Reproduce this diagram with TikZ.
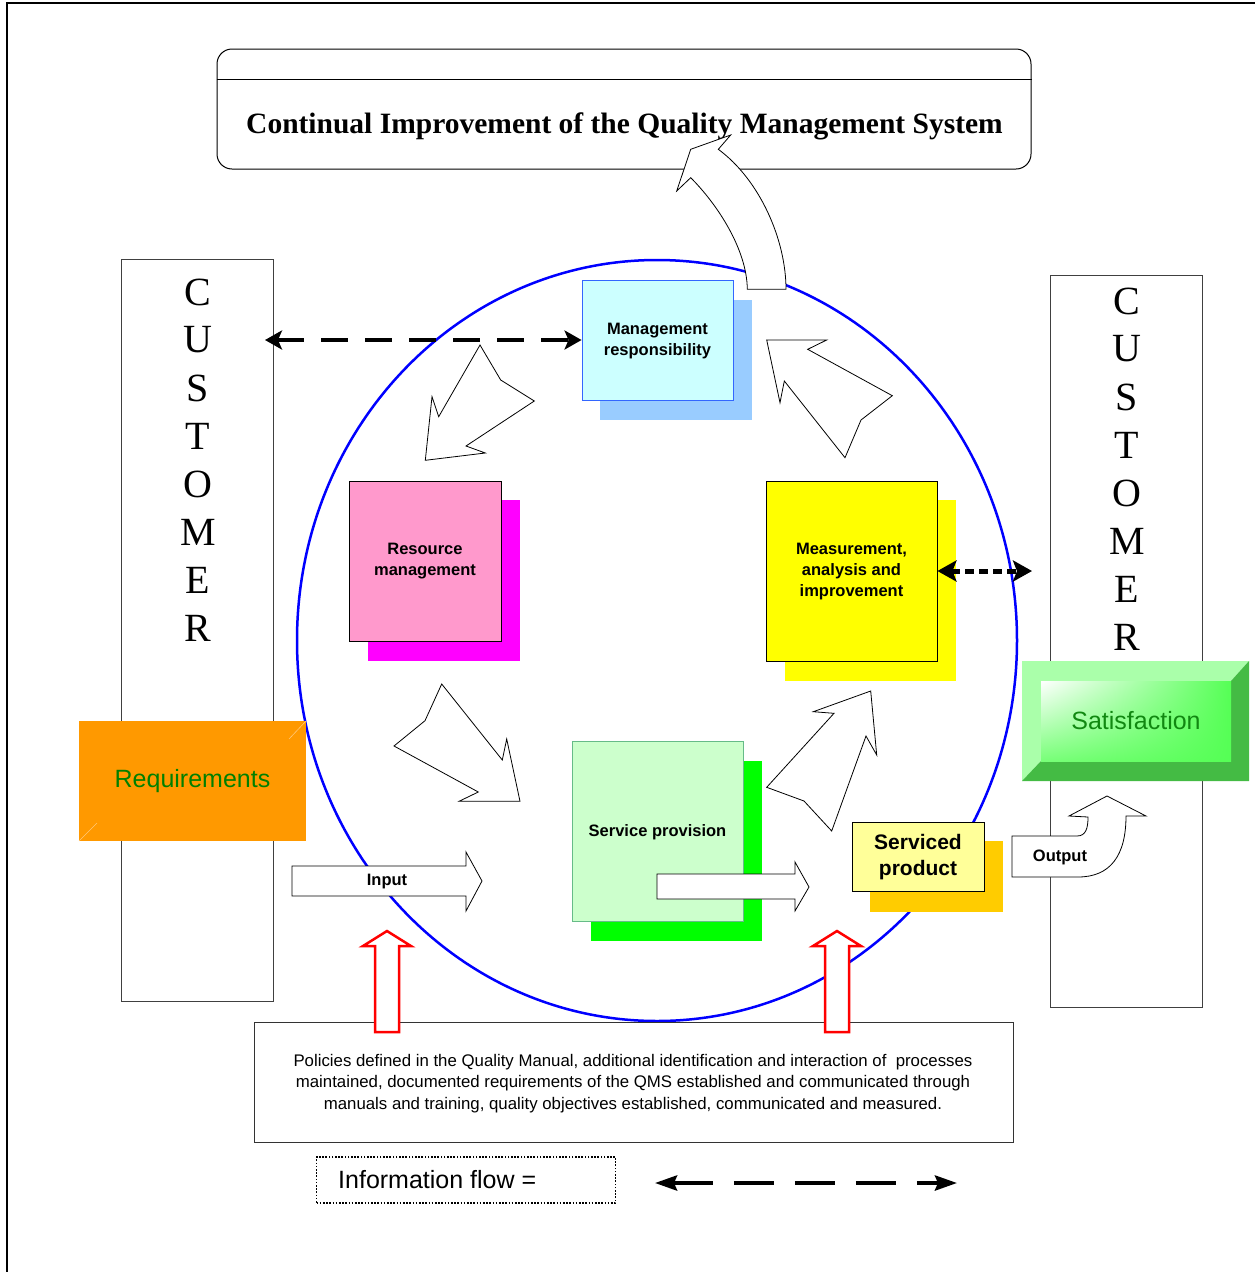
\documentclass[tikz,border=0pt]{standalone}
\usepackage{fontspec}
\setmainfont{Liberation Serif}
\setsansfont{Liberation Sans}
\usetikzlibrary{arrows.meta,calc,shapes.geometric,shadings}

\definecolor{mgfront}{RGB}{204,255,255}
\definecolor{mgshadow}{RGB}{153,204,255}
\definecolor{mgedge}{RGB}{51,102,255}
\definecolor{rsfront}{RGB}{255,153,204}
\definecolor{rsshadow}{RGB}{255,0,255}
\definecolor{msfront}{RGB}{255,255,0}
\definecolor{svfront}{RGB}{204,255,204}
\definecolor{svshadow}{RGB}{0,255,0}
\definecolor{svedge}{RGB}{102,187,136}
\definecolor{pdfront}{RGB}{255,255,153}
\definecolor{pdshadow}{RGB}{255,204,0}
\definecolor{reqorange}{RGB}{255,153,0}
\definecolor{reqline}{RGB}{255,200,120}
\definecolor{txtgreen}{RGB}{0,128,0}
\definecolor{satlight}{RGB}{170,255,170}
\definecolor{satdark}{RGB}{68,187,68}
\definecolor{satbright}{RGB}{85,255,85}
\definecolor{satmid}{RGB}{120,255,120}
\definecolor{sattext}{RGB}{17,136,17}

\tikzset{
  labelfont/.style={font=\sffamily\bfseries\fontsize{16.5}{21}\selectfont},
  frontbox/.style={draw, line width=0.9pt, inner sep=0pt, align=center, labelfont},
  boxlabel/.style={align=center, labelfont, inner sep=0pt},
  custbox/.style={draw=black!75, line width=1pt, fill=white, inner sep=0pt},
  custletter/.style={font=\fontsize{40}{48}\selectfont, inner sep=0pt},
  blockarrow/.style={draw, fill=white, line width=0.8pt, line join=miter},
  redarrow/.style={draw=red, fill=white, line width=2.5pt, line join=miter},
  infoflow/.style={line width=4pt, dash pattern=on 27pt off 17pt,
    {Stealth[length=17pt,width=19pt,inset=4pt]}-{Stealth[length=17pt,width=19pt,inset=4pt]}},
  infodots/.style={line width=5pt, dash pattern=on 9pt off 5pt,
    {Stealth[length=19pt,width=21pt,inset=4pt]}-{Stealth[length=19pt,width=21pt,inset=4pt]}},
  legendflow/.style={line width=4pt, dash pattern=on 40pt off 21pt,
    {Stealth[length=22pt,width=15pt,inset=3pt]}-{Stealth[length=22pt,width=15pt,inset=3pt]}},
}

\begin{document}
\begin{tikzpicture}[x=1pt,y=-1pt]
\useasboundingbox (0,0) rectangle (1255,1272);

% page frame
\draw[line width=1.8pt] (7,1272) -- (7,3) -- (1255,3);

% customer columns
\node[custbox, minimum width=152, minimum height=742] (custL) at (197.5,630.5) {};
\node[custbox, minimum width=152, minimum height=732] (custR) at (1126.5,641) {};
\foreach \l [count=\i] in {C,U,S,T,O,M,E,R} {
  \node[custletter] (custL-\i) at (198,{292+48*(\i-1)}) {\l};
  \node[custletter] (custR-\i) at (1127,{301+48*(\i-1)}) {\l};
}

% title box
\node[draw, line width=1pt, rounded corners=15pt, minimum width=814, minimum height=120, inner sep=0pt]
  (titlebox) at (624,109) {};
\draw[line width=1pt] (titlebox.west |- 0,79) -- (titlebox.east |- 0,79);
\node[font=\bfseries\fontsize{29.5}{34}\selectfont] (title) at (624.5,126)
  {Continual Improvement of the Quality Management System};

% process loop
\node[draw=blue, ellipse, line width=2.5pt, minimum width=720, minimum height=761, inner sep=0pt]
  (loop) at (657,640.5) {};

% requirements panel
\node[fill=reqorange, minimum width=227, minimum height=120, inner sep=0pt,
  font=\sffamily\fontsize{25}{30}\selectfont, text=txtgreen] (req) at (192.5,781) {Requirements};
\draw[reqline, line width=0.6pt] (306,721) -- (289,739);
\draw[reqline, line width=0.6pt] (79,841) -- (97,823);

% satisfaction panel
\fill[satlight] (1022,661) -- (1249,661) -- (1231,681) -- (1041,681) -- (1041,761) -- (1022,781) -- cycle;
\fill[satdark] (1249,661) -- (1249,781) -- (1022,781) -- (1041,761) -- (1231,761) -- (1231,681) -- cycle;
\shade[upper left=white, upper right=satbright, lower left=satmid, lower right=satbright]
  (1041,681) rectangle (1231,761);
\node[font=\sffamily\fontsize{25}{30}\selectfont, text=sattext] (sat) at (1136,720.5) {Satisfaction};

% process boxes with offset shadows
\fill[mgshadow] (600,300) rectangle (752,420);
\node[frontbox, draw=mgedge, fill=mgfront, minimum width=151, minimum height=120] (mgmt) at (657.5,340) {};
\node[boxlabel] (mgmtlabel) at (657.5,341.5) {Management\\responsibility};
\fill[rsshadow] (368,500) rectangle (520,661);
\node[frontbox, fill=rsfront, minimum width=152, minimum height=160] (res) at (425,561) {};
\node[boxlabel] (reslabel) at (425,561.5) {Resource\\management};
\fill[msfront] (785,500) rectangle (956,681);
\node[frontbox, fill=msfront, minimum width=171, minimum height=180] (meas) at (851.5,571) {};
\node[boxlabel] (measlabel) at (851.5,571.5) {Measurement,\\analysis and\\improvement};
\fill[svshadow] (591,761) rectangle (762,941);
\node[frontbox, draw=svedge, fill=svfront, minimum width=171, minimum height=180] (serv) at (657.5,831) {};
\node[boxlabel] (servlabel) at (657.5,832.5) {Service provision};

% cycle arrows
\draw[blockarrow] (480,345) -- (500.7,380) -- (534.3,401) -- (466,446) -- (485.3,453)
  -- (425.3,460.3) -- (432,396.7) -- (438.7,416.7) -- cycle;
\draw[blockarrow] (766.7,340) -- (826.7,340) -- (807.7,349.3) -- (892.3,395.7) -- (861,420)
  -- (845,457.7) -- (784.3,381) -- (780,402.7) -- cycle;
\draw[blockarrow] (441.7,684) -- (425,720.7) -- (394,746) -- (478.3,792) -- (459,801.3)
  -- (520,801.3) -- (506.7,739) -- (502.3,760) -- cycle;
\draw[blockarrow] (870.7,691) -- (813.3,711.7) -- (834,713.3) -- (766.7,787.3) -- (804,801)
  -- (831.7,831) -- (866,736) -- (876.7,755) -- cycle;

% improvement arrow up to the title
\draw[blockarrow] (747.3,289.3) .. controls (747,250) and (718,205) .. (690.7,177.7)
  -- (676.7,191) -- (690.7,149.3) -- (730.7,135) -- (718.3,149.3)
  .. controls (760,180) and (786,240) .. (786,289.3) -- cycle;

% input / output flow arrows
\draw[blockarrow] (292,866) -- (466,866) -- (466,852) -- (482,881) -- (466,911) -- (466,896) -- (292,896) -- cycle;
\node[labelfont] (input) at (387,882) {Input};
\draw[blockarrow] (657,874) -- (795,874) -- (795,862) -- (809,887) -- (795,911) -- (795,899) -- (657,899) -- cycle;
\draw[blockarrow] (1012,836) -- (1077,836) .. controls (1086,836) and (1088,828) .. (1088,817)
  -- (1069,816) -- (1107,796) -- (1146,816) -- (1126,816)
  .. controls (1126,856) and (1110,877) .. (1078,877) -- (1012,877) -- cycle;
\node[labelfont] (output) at (1060,857) {Output};

% serviced product
\fill[pdshadow] (870,841) rectangle (1003,912);
\node[frontbox, fill=pdfront, minimum width=132, minimum height=69] (prod) at (918,856.5) {};
\node[boxlabel, font=\sffamily\bfseries\fontsize{21}{26}\selectfont] (prodlabel) at (918,857.5) {Serviced\\product};

% policies box
\node[draw=black!80, line width=1pt, minimum width=759, minimum height=120, inner sep=0pt] (policy) at (633.5,1082) {};
\node[align=center, font=\sffamily\fontsize{16.8}{21.5}\selectfont] (policytext) at (633,1083.5)
  {Policies defined in the Quality Manual, additional identification and interaction of\ \ processes\\
   maintained, documented requirements of the QMS established and communicated through\\
   manuals and training, quality objectives established, communicated and measured.};

% policy inputs
\draw[redarrow] (375,1032) -- (375,946) -- (363,946) -- (387,931) -- (411,946) -- (399,946) -- (399,1032) -- cycle;
\draw[redarrow] (825,1032) -- (825,946) -- (813,946) -- (837,931) -- (861,946) -- (849,946) -- (849,1032) -- cycle;

% information flows
\coordinate (custLtip) at (265,340);
\draw[infoflow] (custLtip) -- (mgmt.west);
\coordinate (custRtip) at (1032,571);
\draw[infodots] (meas.east) -- (custRtip);

% legend
\node[draw, line width=1.6pt, dash pattern=on 1.6pt off 1.6pt, minimum width=299, minimum height=46, inner sep=0pt]
  (legend) at (466,1180) {};
\node[anchor=west, font=\sffamily\fontsize{25}{30}\selectfont, inner sep=0pt] (legendtext) at (338,1179.5) {Information flow =};
\coordinate (legA) at (655,1183);
\coordinate (legB) at (957,1183);
\draw[legendflow] (legA) -- (legB);
\end{tikzpicture}
\end{document}
